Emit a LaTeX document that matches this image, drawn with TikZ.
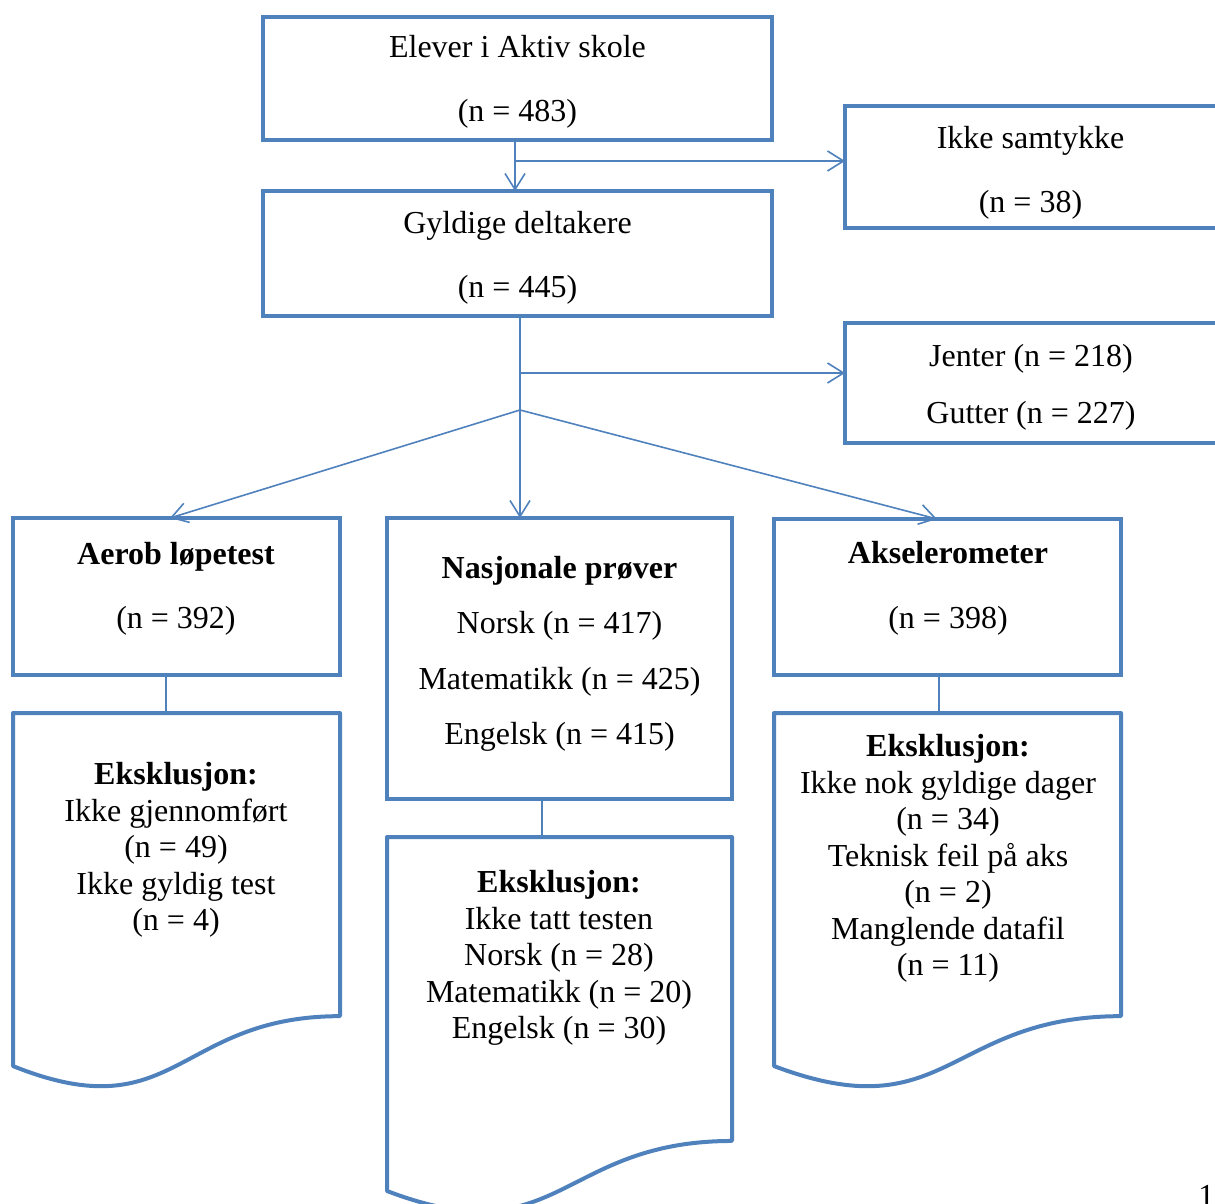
\documentclass[tikz,border=0pt]{standalone}
\usepackage{fontspec}
\setmainfont{Liberation Serif}
\usepackage{xcolor}
\usepackage{tikz}
\usetikzlibrary{arrows.meta,calc}

\definecolor{blaa}{HTML}{4F81BD}

\tikzset{
  boks/.style={draw=blaa, line width=2pt, inner sep=0pt, outer sep=0pt},
  plass/.style={inner sep=0pt, outer sep=0pt},
  tekst/.style={align=center, inner sep=0pt, font=\fontsize{16}{18.25}\selectfont},
  linje/.style={draw=blaa, line width=0.8pt},
  pil/.style={linje, -{Straight Barb[length=8pt,width=10pt]}},
}

% Dokumentform med bølget bunn
\newcommand\dokumentform[1]{%
  \draw[boks, line join=round]
    ($(#1.north west)!0.934!(#1.south west)$) -- (#1.north west) -- (#1.north east)
    -- ($(#1.north east)!0.802!(#1.south east)$)
    .. controls ($(#1.north)!0.802!(#1.south)$) and ($(#1.north)!1.1075!(#1.south)$)
    .. ($(#1.north west)!0.934!(#1.south west)$) -- cycle;}

\begin{document}
\begin{tikzpicture}[x=0.5pt, y=-0.5pt]

    \useasboundingbox (0,0) rectangle (1215,1204);
    \clip (0,0) rectangle (1215,1204);

    % Elever og gyldige deltakere
    \node[boks, minimum width=254.5pt, minimum height=61.5pt] (elever) at (517.5,78.5) {};
    \node[boks, minimum width=254.5pt, minimum height=62.5pt] (gyldige) at (517.5,253.5) {};
    \node[tekst] (eleverT) at (517.5,81.5) {Elever i Aktiv skole\\[13.75pt](n = 483)};
    \node[tekst] (gyldigeT) at (517.5,257.5) {Gyldige deltakere\\[13.75pt](n = 445)};

    % Boksene til høyre
    \node[boks, minimum width=186.5pt, minimum height=61pt] (samtykke) at (1031.5,167) {};
    \node[boks, minimum width=186.5pt, minimum height=60pt] (kjonn) at (1031.5,383) {};
    \node[tekst] (samtykkeT) at (1030.5,173) {Ikke samtykke\\[13.75pt](n = 38)};
    \node[tekst] (kjonnT) at (1031,387) {Jenter (n = 218)\\[10.25pt]Gutter (n = 227)};

    % Tre tester
    \node[boks, minimum width=163.5pt, minimum height=78.5pt] (aerob) at (176.5,596.5) {};
    \node[boks, minimum width=172.5pt, minimum height=140.5pt] (nasjonale) at (559.5,658.5) {};
    \node[boks, minimum width=173.5pt, minimum height=78pt] (aks) at (947.5,597) {};

    \node[tekst] (aerobT) at (176,589) {\textbf{Aerob løpetest}\\[13.75pt](n = 392)};
    \node[tekst] (nasjonaleT) at (559.5,654)
        {\textbf{Nasjonale prøver}\\[9.5pt]Norsk (n = 417)\\[9.5pt]Matematikk (n = 425)\\[9.5pt]Engelsk (n = 415)};
    \node[tekst] (aksT) at (948,588.5) {\textbf{Akselerometer}\\[14pt](n = 398)};

    % Eksklusjon
    \node[plass, minimum width=163.5pt, minimum height=189pt] (ekslA) at (176.5,902) {};
    \node[plass, minimum width=172.5pt, minimum height=189.5pt] (ekslN) at (559.5,1026.5) {};
    \node[plass, minimum width=173.5pt, minimum height=189pt] (ekslK) at (947.5,902) {};
    \dokumentform{ekslA}
    \dokumentform{ekslN}
    \dokumentform{ekslK}

    \node[tekst] (ekslAT) at (176,850)
        {\textbf{Eksklusjon:}\\Ikke gjennomført\\(n = 49)\\Ikke gyldig test\\(n = 4)};
    \node[tekst] (ekslNT) at (559,958)
        {\textbf{Eksklusjon:}\\Ikke tatt testen\\Norsk (n = 28)\\Matematikk (n = 20)\\Engelsk (n = 30)};
    \node[tekst] (ekslKT) at (948,858.5)
        {\textbf{Eksklusjon:}\\Ikke nok gyldige dager\\(n = 34)\\Teknisk feil på aks\\(n = 2)\\Manglende datafil\\(n = 11)};

    % Piler
    \coordinate (gren1) at (515,161);
    \coordinate (knute) at (520,410);
    \coordinate (gren2) at (520,373);
    \draw[pil] (elever.south -| gren1) -- (gyldige.north -| gren1);
    \draw[pil] (gren1) -- (gren1 -| samtykke.west);
    \draw[linje] (gyldige.south -| knute) -- (knute);
    \draw[pil] (gren2) -- (gren2 -| kjonn.west);
    \draw[pil] (knute) -- (aerob.north -| 170,0);
    \draw[pil] (knute) -- (nasjonale.north -| knute);
    \draw[pil] (knute) -- (aks.north -| 937,0);

    % Linjer ned til eksklusjon
    \draw[linje] (aerob.south -| 166,0) -- (ekslA.north -| 166,0);
    \draw[linje] (nasjonale.south -| 542,0) -- (ekslN.north -| 542,0);
    \draw[linje] (aks.south -| 939,0) -- (ekslK.north -| 939,0);

    % Sidetall
    \node[tekst, anchor=base west] (sidetall) at (1198,1206) {1};

\end{tikzpicture}
\end{document}
